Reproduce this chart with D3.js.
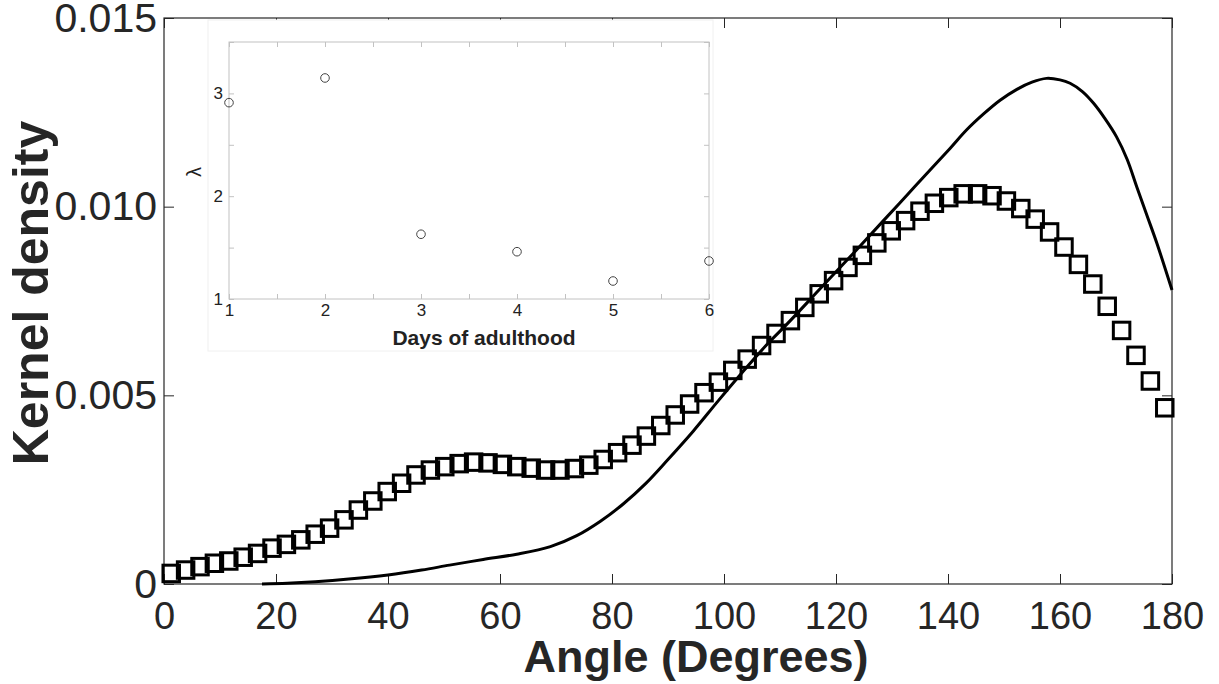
<!DOCTYPE html>
<html>
<head>
<meta charset="utf-8">
<script src="https://cdn.jsdelivr.net/npm/d3@7"></script>
<style>
  body { margin: 0; background: #fff; }
  svg { display: block; font-family: "Liberation Sans", Arial, sans-serif; }
</style>
</head>
<body>
<script>
var width = 1219,
    height = 684;

// main chart: square markers (binned kernel density)
var angles = [1.29, 3.86, 6.43, 9.00, 11.57, 14.14, 16.71, 19.29, 21.86, 24.43,
  27.00, 29.57, 32.14, 34.71, 37.29, 39.86, 42.43, 45.00, 47.57, 50.14,
  52.71, 55.29, 57.86, 60.43, 63.00, 65.57, 68.14, 70.71, 73.29, 75.86,
  78.43, 81.00, 83.57, 86.14, 88.71, 91.29, 93.86, 96.43, 99.00, 101.57,
  104.14, 106.71, 109.29, 111.86, 114.43, 117.00, 119.57, 122.14, 124.71, 127.29,
  129.86, 132.43, 135.00, 137.57, 140.14, 142.71, 145.29, 147.86, 150.43, 153.00,
  155.57, 158.14, 160.71, 163.29, 165.86, 168.43, 171.00, 173.57, 176.14, 178.71];
var density = [0.00028, 0.00037, 0.00046, 0.00055, 0.00061, 0.00071, 0.00081, 0.00095, 0.00105, 0.00117,
  0.00132, 0.00148, 0.00170, 0.00196, 0.00220, 0.00245, 0.00267, 0.00289, 0.00302, 0.00311,
  0.00319, 0.00323, 0.00321, 0.00317, 0.00311, 0.00307, 0.00302, 0.00302, 0.00306, 0.00315,
  0.00330, 0.00348, 0.00368, 0.00392, 0.00420, 0.00448, 0.00477, 0.00507, 0.00535, 0.00566,
  0.00596, 0.00632, 0.00664, 0.00698, 0.00733, 0.00769, 0.00804, 0.00839, 0.00871, 0.00904,
  0.00936, 0.00963, 0.00988, 0.01009, 0.01024, 0.01034, 0.01034, 0.01029, 0.01015, 0.00995,
  0.00967, 0.00933, 0.00893, 0.00847, 0.00795, 0.00736, 0.00672, 0.00606, 0.00538, 0.00467];

// main chart: solid curve
var curveAngle = [17.5, 22, 27, 33, 40, 46, 51, 57, 63, 69,
  73.7, 78, 82, 86, 90, 94.5, 99, 103.75, 107.5, 111.2,
  117.2, 123.2, 128.6, 132.7, 136.8, 140.4, 143.3, 146.3, 149.3, 152.3,
  155, 157.6, 160, 161.8, 164, 166, 168, 170.1, 172, 173.7,
  175.5, 177.3, 180];
var curveDensity = [0, 0.00002, 0.00006, 0.00013, 0.00024, 0.00037, 0.00050, 0.00065, 0.00079, 0.00099,
  0.00128, 0.00167, 0.00212, 0.00266, 0.00330, 0.00405, 0.00486, 0.00569, 0.00632, 0.00688,
  0.00783, 0.00878, 0.00965, 0.01031, 0.01097, 0.01155, 0.01203, 0.01245, 0.01282, 0.01311,
  0.01330, 0.01340, 0.01336, 0.01327, 0.01305, 0.01274, 0.01234, 0.01185, 0.01125, 0.01053,
  0.00978, 0.00903, 0.00779];

var xTicks = [0, 20, 40, 60, 80, 100, 120, 140, 160, 180];
var yTicks = [0, 0.005, 0.010, 0.015];

// inset
var days = [1, 2, 3, 4, 5, 6];
var lambda = [2.91, 3.15, 1.63, 1.46, 1.175, 1.37];
var insetXTicks = [1, 1.5, 2, 2.5, 3, 3.5, 4, 4.5, 5, 5.5, 6];
var insetYTicks = [1, 1.5, 2, 2.5, 3, 3.5];

var axisColor = "#262626";

var svg = d3.select("body").append("svg")
    .attr("width", width)
    .attr("height", height);

// plot area (MATLAB-style box)
var mLeft = 164, mRight = 1172, mTop = 18, mBottom = 584;

var x = d3.scaleLinear().domain([0, 180]).range([mLeft, mRight]);
var y = d3.scaleLinear().domain([0, 0.015]).range([mBottom, mTop]);

function styleAxis(g, color, fs) {
  g.select(".domain").remove();
  g.selectAll("line").attr("stroke", color);
  g.selectAll("text").attr("fill", color).style("font-size", fs + "px");
}

svg.append("rect")
    .attr("x", mLeft).attr("y", mTop)
    .attr("width", mRight - mLeft).attr("height", mBottom - mTop)
    .attr("fill", "none").attr("stroke", axisColor).attr("stroke-width", 1.2);

var fmtY = function (d) { return d === 0 ? "0" : d3.format(".3f")(d); };

svg.append("g").attr("transform", "translate(0," + mBottom + ")")
    .call(d3.axisBottom(x).tickValues(xTicks).tickSize(-10).tickPadding(18))
    .call(styleAxis, axisColor, 38);
svg.append("g").attr("transform", "translate(0," + mTop + ")")
    .call(d3.axisTop(x).tickValues(xTicks).tickSize(-10).tickFormat(""))
    .call(styleAxis, axisColor, 38);
svg.append("g").attr("transform", "translate(" + mLeft + ",0)")
    .call(d3.axisLeft(y).tickValues(yTicks).tickSize(-10).tickPadding(7).tickFormat(fmtY))
    .call(styleAxis, axisColor, 41);
svg.append("g").attr("transform", "translate(" + mRight + ",0)")
    .call(d3.axisRight(y).tickValues(yTicks).tickSize(-10).tickFormat(""))
    .call(styleAxis, axisColor, 41);

// axis labels
svg.append("text")
    .attr("x", 696).attr("y", 672)
    .attr("text-anchor", "middle")
    .attr("font-weight", "bold").attr("font-size", 45)
    .attr("fill", axisColor)
    .text("Angle (Degrees)");
svg.append("text")
    .attr("transform", "translate(48,293) rotate(-90)")
    .attr("text-anchor", "middle")
    .attr("font-weight", "bold").attr("font-size", 50)
    .attr("fill", axisColor)
    .text("Kernel density");

// curve
var line = d3.line()
    .x(function (d) { return x(d[0]); })
    .y(function (d) { return y(d[1]); })
    .curve(d3.curveCatmullRom);
svg.append("path")
    .datum(curveAngle.map(function (a, i) { return [a, curveDensity[i]]; }))
    .attr("d", line)
    .attr("fill", "none")
    .attr("stroke", "#000")
    .attr("stroke-width", 3);

// square markers
var side = 16.5;
svg.selectAll(".square")
    .data(angles)
    .enter().append("rect")
    .attr("class", "square")
    .attr("x", function (d) { return x(d) - side / 2; })
    .attr("y", function (d, i) { return y(density[i]) - side / 2; })
    .attr("width", side)
    .attr("height", side)
    .attr("fill", "none")
    .attr("stroke", "#000")
    .attr("stroke-width", 3);

// ---- inset ----
var iLeft = 229, iRight = 709, iTop = 42, iBottom = 299;
var insetColor = "#c2c2c2";

svg.append("rect")
    .attr("x", 208).attr("y", 20)
    .attr("width", 505).attr("height", 331)
    .attr("fill", "#fff").attr("stroke", "#f0f0f0");

var ix = d3.scaleLinear().domain([1, 6]).range([iLeft, iRight]);
var iy = d3.scaleLinear().domain([1, 3.5]).range([iBottom, iTop]);

svg.append("rect")
    .attr("x", iLeft).attr("y", iTop)
    .attr("width", iRight - iLeft).attr("height", iBottom - iTop)
    .attr("fill", "none").attr("stroke", insetColor).attr("stroke-width", 1);

var intLabel = function (d) { return Number.isInteger(d) ? d : ""; };

var gx = svg.append("g").attr("transform", "translate(0," + iBottom + ")")
    .call(d3.axisBottom(ix).tickValues(insetXTicks).tickSize(-5).tickPadding(5).tickFormat(intLabel))
    .call(styleAxis, insetColor, 17);
gx.selectAll("text").attr("fill", "#222");
svg.append("g").attr("transform", "translate(0," + iTop + ")")
    .call(d3.axisTop(ix).tickValues(insetXTicks).tickSize(-5).tickFormat(""))
    .call(styleAxis, insetColor, 17);
var gy = svg.append("g").attr("transform", "translate(" + iLeft + ",0)")
    .call(d3.axisLeft(iy).tickValues(insetYTicks).tickSize(-5).tickPadding(6).tickFormat(intLabel))
    .call(styleAxis, insetColor, 17);
gy.selectAll("text").attr("fill", "#222");
svg.append("g").attr("transform", "translate(" + iRight + ",0)")
    .call(d3.axisRight(iy).tickValues(insetYTicks).tickSize(-5).tickFormat(""))
    .call(styleAxis, insetColor, 17);

svg.append("text")
    .attr("x", 484).attr("y", 345)
    .attr("text-anchor", "middle")
    .attr("font-weight", "bold").attr("font-size", 21)
    .attr("fill", "#222")
    .text("Days of adulthood");
svg.append("text")
    .attr("transform", "translate(201,172) rotate(-90)")
    .attr("text-anchor", "middle")
    .attr("font-size", 20)
    .attr("fill", "#222")
    .text("λ");

svg.selectAll(".pt")
    .data(days)
    .enter().append("circle")
    .attr("class", "pt")
    .attr("cx", function (d) { return ix(d); })
    .attr("cy", function (d, i) { return iy(lambda[i]); })
    .attr("r", 4.3)
    .attr("fill", "none")
    .attr("stroke", "#444")
    .attr("stroke-width", 1);
</script>
</body>
</html>
